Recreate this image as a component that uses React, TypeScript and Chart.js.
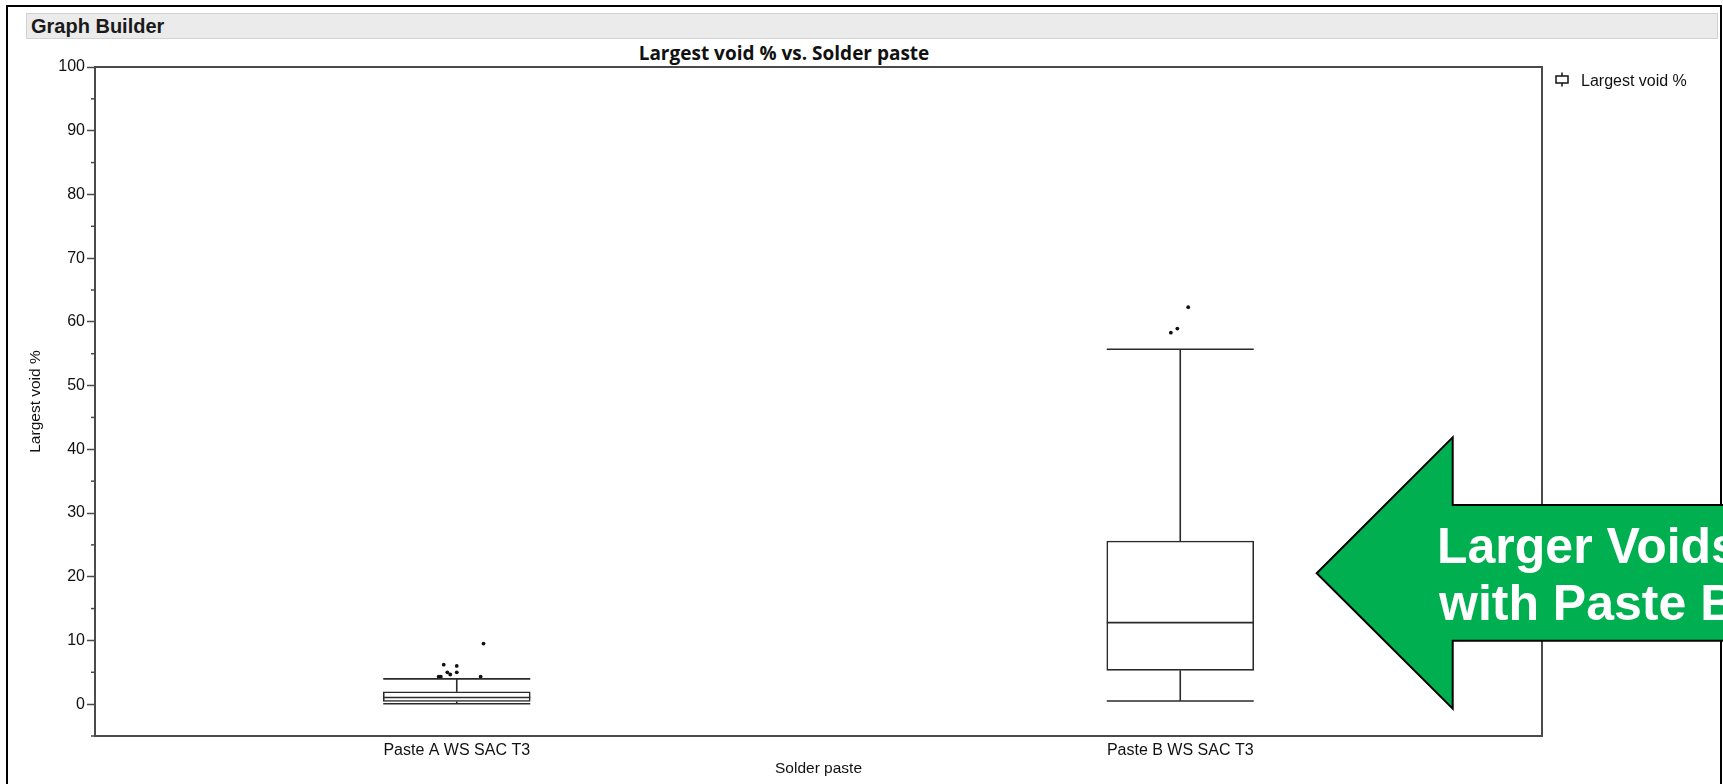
import React, { useEffect, useRef } from 'react';
import { Chart, registerables } from 'chart.js';

Chart.register(...registerables);

// ---------- data ----------
const categories = ['Paste A WS SAC T3', 'Paste B WS SAC T3'];
const whiskerLow = [0.05, 0.5];
const q1 = [0.42, 5.3];
const median = [1.05, 12.8];
const q3 = [1.93, 25.6];
const whiskerHigh = [3.97, 55.7];

const outliersA = [9.5, 6.2, 6.0, 5.0, 4.65, 5.0, 4.3, 4.3, 4.3];
const jitterA = [0.037, -0.018, 0.0, -0.013, -0.009, 0.0, -0.025, -0.022, 0.033];
const outliersB = [62.3, 58.95, 58.3];
const jitterB = [0.011, -0.004, -0.013];

const yTicks = [0, 10, 20, 30, 40, 50, 60, 70, 80, 90, 100];
const yMinorTicks = [-5, 5, 15, 25, 35, 45, 55, 65, 75, 85, 95];

const seriesName = 'Largest void %';
const chartTitle = 'Largest void % vs. Solder paste';
const xTitle = 'Solder paste';
const yTitle = 'Largest void %';
const annotationLines = ['Larger Voids', 'with Paste B'];

// ---------- styles ----------
const FONT = '"Liberation Sans", Arial, sans-serif';
const LINE = '#2a2a2a';
const AXIS = '#4a4a4a';

export default function App() {
  const ref = useRef<HTMLCanvasElement | null>(null);

  useEffect(() => {
    if (!ref.current) return;

    const boxParts = {
      id: 'boxParts',
      afterDatasetsDraw(chart: any) {
        const { ctx, chartArea } = chart;
        const x = chart.scales.x;
        const y = chart.scales.y;
        const meta = chart.getDatasetMeta(0);
        const line = (x1: number, y1: number, x2: number, y2: number) => {
          ctx.beginPath();
          ctx.moveTo(x1, y1);
          ctx.lineTo(x2, y2);
          ctx.stroke();
        };
        ctx.save();
        ctx.strokeStyle = LINE;
        ctx.lineWidth = 1.6;
        categories.forEach((_c, i) => {
          const el = meta.data[i];
          const cx = x.getPixelForValue(i + 0.5);
          const hw = el ? el.width / 2 : 73;
          const yMed = y.getPixelForValue(median[i]);
          const yQ1 = y.getPixelForValue(q1[i]);
          const yQ3 = y.getPixelForValue(q3[i]);
          const yLo = y.getPixelForValue(whiskerLow[i]);
          const yHi = y.getPixelForValue(whiskerHigh[i]);
          line(cx - hw, yMed, cx + hw, yMed);
          line(cx, yQ3, cx, yHi);
          line(cx, yQ1, cx, yLo);
          line(cx - hw, yHi, cx + hw, yHi);
          line(cx - hw, yLo, cx + hw, yLo);
        });
        // minor ticks
        ctx.strokeStyle = AXIS;
        ctx.lineWidth = 1.5;
        yMinorTicks.forEach((v) => {
          const py = y.getPixelForValue(v);
          line(chartArea.left - 4, py, chartArea.left, py);
        });
        // plot frame
        ctx.lineWidth = 2;
        ctx.strokeRect(
          chartArea.left,
          chartArea.top,
          chartArea.right - chartArea.left,
          chartArea.bottom - chartArea.top
        );
        ctx.restore();
      },
    };

    const outlierData = [
      ...outliersA.map((v, k) => ({ x: 0.5 + jitterA[k], y: v })),
      ...outliersB.map((v, k) => ({ x: 1.5 + jitterB[k], y: v })),
    ];

    const chart = new Chart(ref.current, {
      type: 'bar',
      data: {
        datasets: [
          {
            type: 'bar',
            label: seriesName,
            data: categories.map((_c, i) => ({ x: i + 0.5, y: [q1[i], q3[i]] })) as any,
            backgroundColor: '#ffffff',
            borderColor: LINE,
            borderWidth: 1.6,
            borderSkipped: false,
            barThickness: 147,
          } as any,
          {
            type: 'scatter',
            label: 'outliers',
            data: outlierData,
            pointRadius: 1.9,
            pointBackgroundColor: '#111',
            pointBorderWidth: 0,
            pointHoverRadius: 1.9,
          } as any,
        ],
      },
      options: {
        animation: false,
        responsive: false,
        devicePixelRatio: 1,
        events: [],
        layout: { padding: { left: 0, top: 67, right: 181, bottom: 0 } },
        plugins: {
          legend: { display: false },
          tooltip: { enabled: false },
          title: { display: false },
        },
        scales: {
          x: {
            type: 'linear',
            min: 0,
            max: 2,
            offset: false,
            afterBuildTicks: (s: any) => {
              s.ticks = categories.map((_c, i) => ({ value: i + 0.5 }));
            },
            afterFit: (s: any) => {
              s.height = 48;
            },
            grid: { display: false, drawTicks: false },
            border: { display: false },
            ticks: {
              autoSkip: false,
              maxRotation: 0,
              padding: 5,
              color: '#111',
              font: { family: FONT, size: 16 },
              callback: (_v: any, index: number) => categories[index],
            },
            title: {
              display: true,
              text: xTitle,
              color: '#111',
              font: { family: FONT, size: 15.5 },
              padding: { top: 0, bottom: 5.7 },
            },
          } as any,
          y: {
            type: 'linear',
            min: -5,
            max: 100,
            afterBuildTicks: (s: any) => {
              s.ticks = yTicks.map((v) => ({ value: v }));
            },
            afterFit: (s: any) => {
              s.width = 95;
            },
            grid: {
              display: true,
              drawOnChartArea: false,
              drawTicks: true,
              tickLength: 8,
              tickColor: AXIS,
              tickWidth: 1.5,
            },
            border: { display: false },
            ticks: {
              padding: 2,
              color: '#111',
              font: { family: FONT, size: 16 },
              callback: (v: any) => String(v),
            },
            title: {
              display: true,
              text: yTitle,
              color: '#111',
              font: { family: FONT, size: 15.5 },
              padding: { top: 26.7, bottom: 0 },
            },
          } as any,
        },
      },
      plugins: [boxParts],
    } as any);

    return () => chart.destroy();
  }, []);

  return (
    <div
      style={{
        position: 'fixed',
        left: 0,
        top: 0,
        width: 1723,
        height: 784,
        overflow: 'hidden',
        background: '#fff',
        fontFamily: FONT,
      }}
    >
      {/* outer frame */}
      <div
        style={{
          position: 'absolute',
          left: 6,
          top: 5,
          width: 1716,
          height: 830,
          border: '2px solid #000',
          boxSizing: 'border-box',
        }}
      />
      {/* header bar */}
      <div
        style={{
          position: 'absolute',
          left: 26,
          top: 13,
          width: 1692,
          height: 26,
          background: '#ebebeb',
          border: '1px solid #d2d2d2',
          boxSizing: 'border-box',
        }}
      />
      <div
        style={{
          position: 'absolute',
          left: 31,
          top: 14,
          height: 24,
          lineHeight: '24px',
          fontSize: 20,
          fontWeight: 700,
          color: '#1a1a1a',
          whiteSpace: 'nowrap',
        }}
      >
        Graph Builder
      </div>
      {/* chart title */}
      <div
        style={{
          position: 'absolute',
          left: 784,
          top: 42,
          transform: 'translateX(-50%)',
          lineHeight: '22px',
          fontSize: 19,
          fontWeight: 700,
          fontFamily: '"Open Sans", sans-serif',
          color: '#111',
          whiteSpace: 'nowrap',
        }}
      >
        {chartTitle}
      </div>
      <canvas
        ref={ref}
        width={1723}
        height={784}
        style={{ position: 'absolute', left: 0, top: 0, width: 1723, height: 784 }}
      />
      {/* legend */}
      <svg
        style={{ position: 'absolute', left: 1554, top: 72, overflow: 'visible' }}
        width={16}
        height={16}
      >
        <line x1={8} y1={0.5} x2={8} y2={14.5} stroke="#111" strokeWidth={1.5} />
        <rect x={2} y={4} width={12} height={7} fill="#fff" stroke="#111" strokeWidth={1.5} />
      </svg>
      <div
        style={{
          position: 'absolute',
          left: 1581,
          top: 71,
          lineHeight: '20px',
          fontSize: 16,
          color: '#111',
          whiteSpace: 'nowrap',
        }}
      >
        {seriesName}
      </div>
      {/* annotation arrow */}
      <svg
        style={{ position: 'absolute', left: 0, top: 0, pointerEvents: 'none' }}
        width={1723}
        height={784}
      >
        <polygon
          points="1316.7,573.3 1452.7,437.3 1452.7,505 1760,505 1760,640.7 1452.7,640.7 1452.7,708.7"
          fill="#00B050"
          stroke="#000"
          strokeWidth={2}
          strokeLinejoin="miter"
        />
        <text
          x={1437}
          y={563}
          fill="#fff"
          fontFamily={FONT}
          fontWeight={700}
          fontSize={50}
        >
          {annotationLines[0]}
        </text>
        <text
          x={1439}
          y={620}
          fill="#fff"
          fontFamily={FONT}
          fontWeight={700}
          fontSize={50}
        >
          {annotationLines[1]}
        </text>
      </svg>
    </div>
  );
}
